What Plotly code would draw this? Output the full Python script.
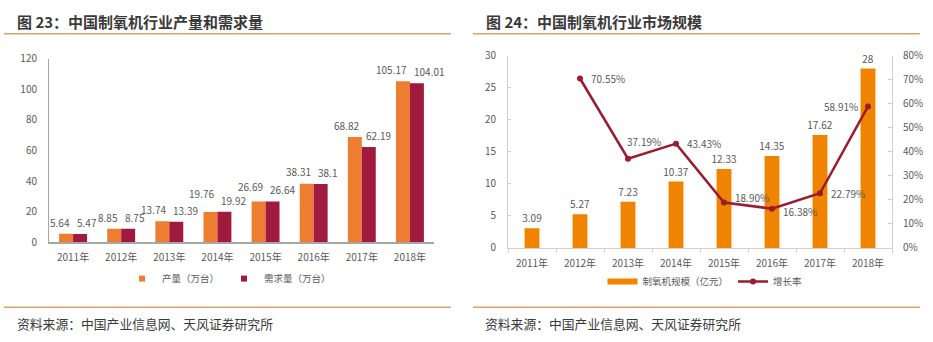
import plotly.graph_objects as go

# ---------------- data ----------------
years = ["2011年", "2012年", "2013年", "2014年", "2015年", "2016年", "2017年", "2018年"]
production = [5.64, 8.85, 13.74, 19.76, 26.69, 38.31, 68.82, 105.17]   # 产量（万台）
demand = [5.47, 8.75, 13.39, 19.92, 26.64, 38.1, 62.19, 104.01]        # 需求量（万台）
market = [3.09, 5.27, 7.23, 10.37, 12.33, 14.35, 17.62, 28]            # 制氧机规模（亿元）
growth_years = years[1:]
growth = [70.55, 37.19, 43.43, 18.90, 16.38, 22.79, 58.91]             # 增长率 (%)

left_yticks = [0, 20, 40, 60, 80, 100, 120]
right_yticks = [0, 5, 10, 15, 20, 25, 30]
pct_ticks = [0, 10, 20, 30, 40, 50, 60, 70, 80]
pct_labels = [f"{v}%" for v in pct_ticks]

# ---------------- styles ----------------
W, H = 933, 342
FONT = "Noto Sans CJK SC"
TXT = "#595959"
C_ORANGE = "#ED7D31"
C_RED = "#A01A3F"
C_BAR2 = "#F08300"
C_LINE = "#9B1B30"
C_RULE = "#D9A467"
# extra vertical lift of production labels (as placed in the reference)
prod_label_lift = [2, 2, 2, 9, 5, 3, 2, 2]
# label placement for growth-rate labels: (xanchor, xshift, yshift)
growth_label_style = [("left", 9, 0), ("left", -3, 17), ("left", 9, 0), ("left", 9, 5),
                      ("left", 9, -3), ("left", 9, 0), ("right", -8, 0)]


def px(x):
    return x / W


def py(y):
    return 1 - y / H


fig = go.Figure()

# ---- left chart ----
fig.add_trace(go.Bar(x=years, y=production, name="产量（万台）", marker_color=C_ORANGE,
                     marker_line_width=0, width=0.29, offset=-0.29,
                     xaxis="x", yaxis="y", showlegend=False))
fig.add_trace(go.Bar(x=years, y=demand, name="需求量（万台）", marker_color=C_RED,
                     marker_line_width=0, width=0.29, offset=0.0,
                     xaxis="x", yaxis="y", showlegend=False))
# small square legend entries like the reference
fig.add_trace(go.Scatter(x=[None], y=[None], mode="markers", name="产量（万台）",
                         marker=dict(symbol="square", size=6, color=C_ORANGE),
                         xaxis="x", yaxis="y", legend="legend"))
fig.add_trace(go.Scatter(x=[None], y=[None], mode="markers", name="需求量（万台）",
                         marker=dict(symbol="square", size=6, color=C_RED),
                         xaxis="x", yaxis="y", legend="legend"))

LBL = dict(family=FONT, size=10, color=TXT)
annotations = []
for cat, v, lift in zip(years, production, prod_label_lift):
    annotations.append(dict(x=cat, y=v, xref="x", yref="y", text=f"{v:g}", showarrow=False,
                            xanchor="right", yanchor="bottom", xshift=-1, yshift=lift, font=LBL))
for cat, v in zip(years, demand):
    annotations.append(dict(x=cat, y=v, xref="x", yref="y", text=f"{v:g}", showarrow=False,
                            xanchor="left", yanchor="bottom", xshift=2, yshift=2, font=LBL))

# ---- right chart ----
fig.add_trace(go.Bar(x=years, y=market, name="制氧机规模（亿元）", marker_color=C_BAR2,
                     marker_line_width=0, width=0.31, offset=-0.155,
                     text=[f"{v:g}" for v in market], textposition="outside",
                     textfont=LBL, constraintext="none", cliponaxis=False,
                     xaxis="x2", yaxis="y2", showlegend=False))
# legend entry for the bar series (drawn as a thick line like the reference)
fig.add_trace(go.Scatter(x=[None], y=[None], mode="lines", name="制氧机规模（亿元）",
                         line=dict(color=C_BAR2, width=6),
                         xaxis="x2", yaxis="y2", legend="legend2"))
fig.add_trace(go.Scatter(x=growth_years, y=growth, name="增长率", mode="lines+markers",
                         line=dict(color=C_LINE, width=2.5),
                         marker=dict(color=C_LINE, size=6), cliponaxis=False,
                         xaxis="x2", yaxis="y3", legend="legend2"))
for cat, v, (xa, xs, ys) in zip(growth_years, growth, growth_label_style):
    annotations.append(dict(x=cat, y=v, xref="x2", yref="y3", text=f"{v:.2f}%", showarrow=False,
                            xanchor=xa, yanchor="middle", xshift=xs, yshift=ys, font=LBL))

# ---- titles & sources ----
annotations += [
    dict(x=px(15), y=py(14), xref="paper", yref="paper", xanchor="left", yanchor="middle",
         text="<b>图 23：中国制氧机行业产量和需求量</b>", showarrow=False,
         font=dict(family=FONT, size=15, color="#3A3A3A")),
    dict(x=px(484), y=py(14), xref="paper", yref="paper", xanchor="left", yanchor="middle",
         text="<b>图 24：中国制氧机行业市场规模</b>", showarrow=False,
         font=dict(family=FONT, size=15, color="#3A3A3A")),
    dict(x=px(15), y=py(330), xref="paper", yref="paper", xanchor="left", yanchor="middle",
         text="资料来源：中国产业信息网、天风证券研究所", showarrow=False,
         font=dict(family=FONT, size=12.8, color="#3A3A3A")),
    dict(x=px(483), y=py(330), xref="paper", yref="paper", xanchor="left", yanchor="middle",
         text="资料来源：中国产业信息网、天风证券研究所", showarrow=False,
         font=dict(family=FONT, size=12.8, color="#3A3A3A")),
]

shapes = [
    dict(type="line", xref="paper", yref="paper", x0=px(4), x1=px(451), y0=py(27), y1=py(27),
         line=dict(color=C_RULE, width=1.5)),
    dict(type="line", xref="paper", yref="paper", x0=px(473), x1=px(920), y0=py(27), y1=py(27),
         line=dict(color=C_RULE, width=1.5)),
    dict(type="line", xref="paper", yref="paper", x0=px(4), x1=px(451), y0=py(313), y1=py(313),
         line=dict(color=C_RULE, width=1.5)),
    dict(type="line", xref="paper", yref="paper", x0=px(473), x1=px(920), y0=py(313), y1=py(313),
         line=dict(color=C_RULE, width=1.5)),
]

tickfont = dict(family=FONT, size=10, color=TXT)

fig.update_layout(
    width=W, height=H, margin=dict(l=0, r=0, t=0, b=0),
    paper_bgcolor="white", plot_bgcolor="white",
    font=dict(family=FONT, color=TXT),
    showlegend=True,
    annotations=annotations, shapes=shapes,
    xaxis=dict(domain=[px(49), px(434)], anchor="y", type="category",
               categoryorder="array", categoryarray=years, range=[-0.5, 7.5],
               showline=True, linecolor="#A6A6A6", linewidth=2, ticks="",
               tickfont=tickfont, showgrid=False, zeroline=False, ticklabelstandoff=5),
    yaxis=dict(domain=[py(245), py(53)], anchor="x", range=[0, 120], tickvals=left_yticks,
               showline=True, linecolor="#A6A6A6", linewidth=1, ticks="",
               tickfont=tickfont, showgrid=False, zeroline=False, ticklabelstandoff=9),
    xaxis2=dict(domain=[px(508), px(892)], anchor="y2", type="category",
                categoryorder="array", categoryarray=years, range=[-0.5, 7.5],
                showline=True, linecolor="#D0D0D0", linewidth=1,
                ticks="outside", tickson="boundaries", ticklen=4, tickcolor="#D0D0D0",
                tickfont=tickfont, showgrid=False, zeroline=False, ticklabelstandoff=6),
    yaxis2=dict(domain=[py(251), py(50)], anchor="x2", range=[0, 30], tickvals=right_yticks,
                showline=True, linecolor="#D0D0D0", linewidth=1,
                ticks="inside", ticklen=3, tickcolor="#D0D0D0",
                tickfont=tickfont, showgrid=False, zeroline=False, ticklabelstandoff=9),
    yaxis3=dict(overlaying="y2", side="right", anchor="x2", range=[0, 80],
                tickvals=pct_ticks, ticktext=pct_labels,
                showline=True, linecolor="#D0D0D0", linewidth=1,
                ticks="inside", ticklen=4, tickcolor="#D0D0D0",
                tickfont=tickfont, showgrid=False, zeroline=False, ticklabelstandoff=8),
    legend=dict(orientation="h", x=px(229), xanchor="center", y=py(283), yanchor="middle",
                font=dict(family=FONT, size=9.5, color=TXT), bgcolor="rgba(0,0,0,0)",
                itemclick=False, itemdoubleclick=False),
    legend2=dict(orientation="h", x=px(705), xanchor="center", y=py(286), yanchor="middle",
                 font=dict(family=FONT, size=9.5, color=TXT), bgcolor="rgba(0,0,0,0)",
                 itemclick=False, itemdoubleclick=False),
)

fig.write_html("out.html")
